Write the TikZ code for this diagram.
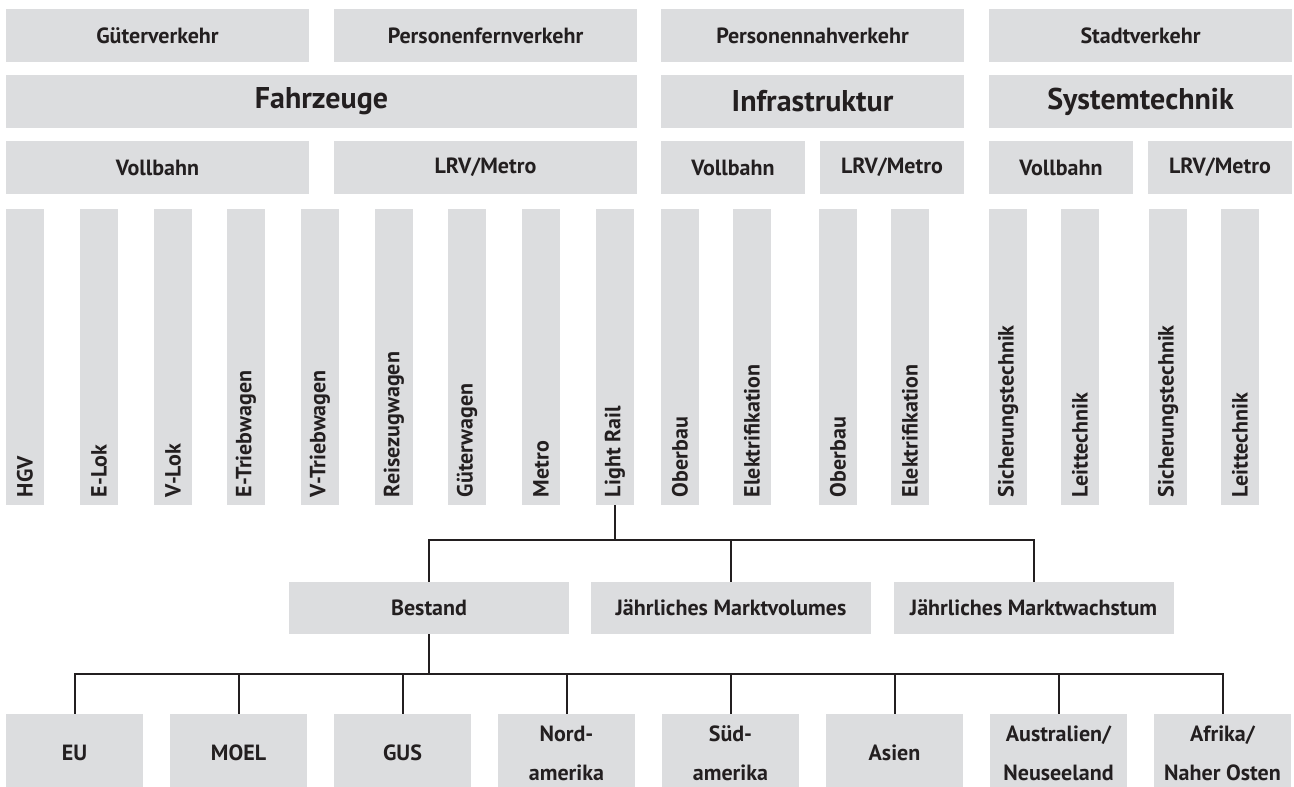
\documentclass[tikz,border=0pt]{standalone}
\usepackage{fontspec}
\setmainfont{PT Sans}
\definecolor{boxgray}{RGB}{220,221,223}
\definecolor{ink}{RGB}{35,31,32}
\tikzstyle{box} = [fill=boxgray, text=ink, inner sep=0pt, minimum height=53pt, font=\fontsize{22}{26}\selectfont\bfseries]
\tikzstyle{bigbox} = [box, font=\fontsize{30}{34}\selectfont\bfseries]
\tikzstyle{bar} = [fill=boxgray, inner sep=0pt, minimum width=38pt, minimum height=296pt]
\tikzstyle{bartext} = [text=ink, inner sep=0pt, rotate=90, anchor=west, font=\fontsize{22}{26}\selectfont\bfseries]
\tikzstyle{region} = [box, minimum width=137pt, minimum height=78pt, align=center, font=\fontsize{22}{39}\selectfont\bfseries]
\tikzstyle{link} = [draw=ink, line width=2pt]

\begin{document}
\begin{tikzpicture}[x=1pt, y=-1pt]
      \useasboundingbox (0,0) rectangle (1294,787);
      \node[box, minimum width=303pt] (gueter) at (157.5,35.5) {Güterverkehr};
      \node[box, minimum width=303pt] (fern) at (485.5,35.5) {Personenfernverkehr};
      \node[box, minimum width=303pt] (nah) at (812.5,35.5) {Personennahverkehr};
      \node[box, minimum width=303pt] (stadt) at (1140.5,35.5) {Stadtverkehr};
      \node[bigbox, minimum width=631pt] (fzg) at (321.5,101.5) {Fahrzeuge};
      \node[bigbox, minimum width=303pt] (infra) at (812.5,101.5) {Infrastruktur};
      \node[bigbox, minimum width=303pt] (sys) at (1140.5,101.5) {Systemtechnik};
      \node[box, minimum width=303pt] (fzgvb) at (157.5,167.5) {Vollbahn};
      \node[box, minimum width=303pt] (fzglrv) at (485.5,167.5) {LRV/Metro};
      \node[box, minimum width=144pt] (infvb) at (733,167.5) {Vollbahn};
      \node[box, minimum width=144pt] (inflrv) at (892,167.5) {LRV/Metro};
      \node[box, minimum width=144pt] (sysvb) at (1061,167.5) {Vollbahn};
      \node[box, minimum width=144pt] (syslrv) at (1220,167.5) {LRV/Metro};
      \foreach \xl/\txt [count=\i] in {6/HGV, 80/E-Lok, 154/V-Lok, 227/E-Triebwagen, 301/V-Triebwagen,
          375/Reisezugwagen, 448/Güterwagen, 522/Metro, 596/Light Rail, 661/Oberbau, 733/Elektrifikation,
          819/Oberbau, 891/Elektrifikation, 989/Sicherungstechnik, 1061/Leittechnik,
          1149/Sicherungstechnik, 1221/Leittechnik}{
        \node[bar] (b\i) at (\xl+19,357) {};
        \node[bartext] (t\i) at ([yshift=8pt]b\i.south) {\txt};
      }
      \node[box, minimum width=280pt, minimum height=52pt] (bestand) at (429,608) {Bestand};
      \node[box, minimum width=280pt, minimum height=52pt] (volumen) at (731,608) {Jährliches Marktvolumes};
      \node[box, minimum width=280pt, minimum height=52pt] (wachstum) at (1033.5,608) {Jährliches Marktwachstum};
      \node[region] (eu) at (74.5,753) {EU};
      \node[region] (moel) at (238.5,753) {MOEL};
      \node[region] (gus) at (402.5,753) {GUS};
      \node[region] (nam) at (566.5,753) {Nord-\\amerika};
      \node[region] (sam) at (730.5,753) {Süd-\\amerika};
      \node[region] (asien) at (894.5,753) {Asien};
      \node[region] (aus) at (1058.5,753) {Australien/\\Neuseeland};
      \node[region] (afrika) at (1222.5,753) {Afrika/\\Naher Osten};
      \coordinate (j1) at (615,540);
      \coordinate (j2) at (429,674);
      \draw[link] (b9.south) -- (j1);
      \draw[link] (bestand.north) |- (j1) -| (wachstum.north);
      \draw[link] (volumen.north) -- (volumen.north |- j1);
      \draw[link] (bestand.south) -- (j2);
      \draw[link] (eu.north) |- (j2) -| (afrika.north);
      \foreach \n in {moel, gus, nam, sam, asien, aus}
        \draw[link] (\n.north) -- (\n.north |- j2);
    \end{tikzpicture}
\end{document}
